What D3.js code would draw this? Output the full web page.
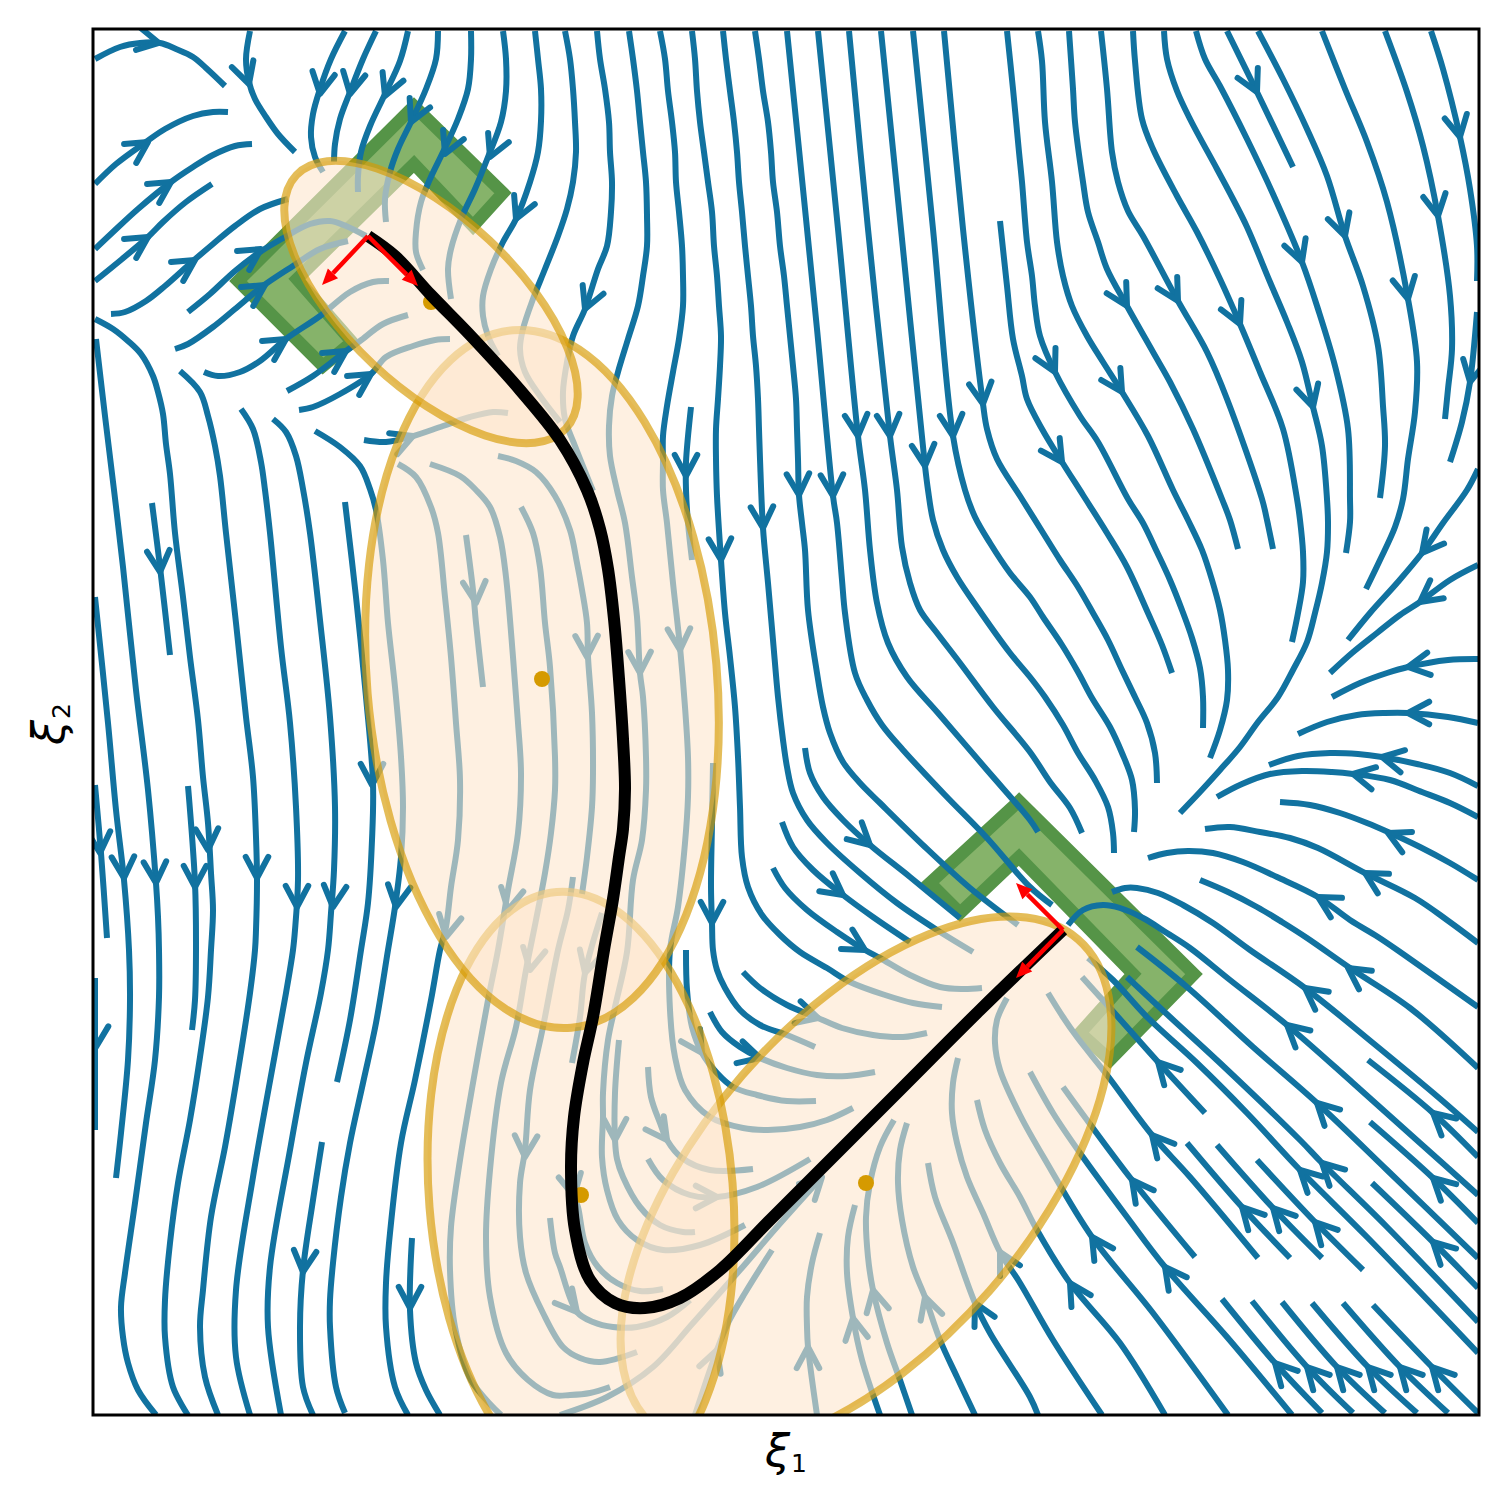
<!DOCTYPE html>
<html>
<head>
<meta charset="utf-8">
<script src="https://cdn.jsdelivr.net/npm/d3@7"></script>
<style>
  body { margin: 0; background: #fff; }
  svg { display: block; }
  text { font-family: "DejaVu Sans"; fill: #000; }
</style>
</head>
<body>
<svg></svg>
<script>
const width = 1508
const height = 1508

// values are in plot units, flat x,y,x,y lists
const streamTopLeft = [
    [2,30,27,18,47,14,67,14,83,20,100,28,113,39,132,57],
    [157,2,153,30,156,53,162,70,173,88,185,105,202,123],
    [252,2,238,30,227,60,220,85,218,108,222,128,230,143],
    [283,2,270,30,257,63,247,90,242,115,241,133],
    [315,2,307,32,292,65,277,97,268,123,265,147,265,163],
    [345,2,343,30,333,60,318,93,305,120,297,143,292,170,293,193],
    [378,2,378,30,375,60,365,90,350,123,337,150,328,173,323,203,323,223,330,241],
    [410,2,413,30,413,62,408,93,395,128,382,160,368,190,358,220,355,240,358,270],
    [442,2,445,30,448,60,448,92,445,123,437,153,423,190,410,213,398,240,390,267,390,287,395,307,405,327],
    [472,2,477,30,480,60,482,93,483,123,480,153,474,180,465,207,452,240,440,270,430,300,427,320,432,343,447,367,467,393],
    [504,2,507,30,512,60,516,93,517,123,519,153,518,183,514,217,505,240,492,280,480,307,474,333,470,363,472,390,482,417,500,462]
]
const streamFan = [
    [2,155,23,135,53,113,72,100,100,87,120,83,135,83],
    [2,220,20,203,45,180,78,153,100,138,120,126,142,117,159,115],
    [2,252,23,235,55,208,70,193,93,173,119,155],
    [18,285,32,283,53,272,72,257,100,232,120,215,142,197,167,180,195,170],
    [95,283,117,265,142,242,167,223,192,208,217,195,237,192,253,197,273,207],
    [82,320,95,315,120,298,142,280,170,257,200,237,227,220,255,212],
    [111,343,125,347,147,343,167,332,193,310,227,287,257,263,280,253,296,252],
    [194,362,220,347,253,322,267,312,290,295,315,286],
    [206,381,220,378,247,365,278,345,293,328,320,317,342,311,357,310],
    [271,411,293,413,317,408,350,397,377,388,400,383,415,384]
]
const streamLeft = [
    [3,310,12,387,21,461,30,538,43,661,55,761,63,854,65,888,66,921,66,968,62,1031,53,1094,42,1174,32,1244,28,1278,30,1308,35,1334,45,1361,63,1386],
    [2,290,20,300,35,312,48,325,60,347,65,363,70,385,73,415,77,445,82,504,90,568,97,628,105,691,110,748,115,794,118,844,120,881,118,921,115,968,107,1028,97,1091,85,1154,77,1214,72,1271,72,1308,80,1358,95,1386],
    [87,342,107,363,115,387,122,417,127,447,133,504,143,594,153,688,160,748,163,808,164,851,163,901,162,921,157,964,143,1054,132,1118,118,1188,110,1261,107,1298,112,1348,125,1386],
    [148,380,160,400,168,433,172,461,177,504,188,618,197,694,203,778,205,851,202,901,200,921,193,964,173,1074,160,1148,143,1261,143,1328,157,1386],
    [180,390,193,403,203,427,210,460,217,504,227,591,237,688,242,778,241,841,238,884,235,921,228,964,213,1034,197,1121,177,1238,175,1298,188,1386],
    [252,473,263,568,273,668,280,754,279,811,275,874,268,921,257,991,244,1053],
    [59,474,67,538,77,626],
    [2,568,15,694,23,781,31,851,36,921,37,971,35,1031,28,1104,23,1149],
    [2,756,8,824,14,909],
    [2,949,2,1101],
    [95,757,102,854,103,921,102,971,99,1001],
    [229,1113,220,1171,210,1241,207,1298,210,1358,220,1386],
    [319,1209,317,1281,323,1334,333,1361,347,1386]
]
const streamMiddle = [
    [222,402,247,418,267,437,277,460,283,481,290,531,295,594,302,658,308,728,310,778,308,828,302,878,295,921,283,994,270,1054,257,1114,248,1168,240,1234,237,1271,237,1298,243,1358,252,1384],
    [305,435,323,448,338,478,345,504,352,568,358,628,363,694,367,751,365,811,358,858,353,898,347,921,338,971,322,1051,308,1114,297,1204,293,1254,293,1298,302,1358,315,1386],
    [337,435,367,447,383,461,397,478,407,508,413,548,420,628,425,694,428,744,425,804,415,861,405,921,395,971,380,1054,367,1131,358,1198,357,1241,362,1298,378,1351,408,1386],
    [373,506,380,561,383,594,390,658],
    [428,478,440,504,447,538,452,594,457,638,462,728,462,761,458,804,452,844,443,891,433,941,423,998,408,1054,397,1141,393,1208,397,1268,413,1324,435,1351,460,1366,477,1366,497,1364,517,1358],
    [405,427,423,432,443,443,462,467,477,501,484,534,489,561,494,594,495,628,499,684,500,744,499,778,494,828,489,865],
    [480,848,475,881,465,921,450,998,437,1061,432,1121,427,1154,427,1208,433,1244,450,1284,470,1318,487,1329,507,1333,544,1323],
    [509,884,492,944,487,988,479,1034],
    [478,1100,481,1167,485,1178,492,1214,505,1238,524,1254,547,1262,570,1260],
    [457,1189,462,1224,467,1238,484,1283,500,1293,520,1298,544,1298,574,1288,597,1271],
    [536,2,540,30,544,62,547,93,550,123,553,153,554,187,554,217,550,247,545,277,535,310,525,343,519,367,516,397,517,427,524,461,532,494,539,548,544,588,547,644,550,668,553,728,553,761,549,811,540,851,534,923,522,978,515,1011,510,1064,510,1088,509,1128,514,1161,525,1191,544,1211,570,1221,607,1216,652,1196],
    [567,2,572,30,575,62,579,93,582,123,583,153,586,183,589,217,590,247,590,277,586,310,580,343,574,377,570,407,570,433,570,461,574,494,580,554,587,618,592,678,595,728,595,768,592,814,585,878,577,921,577,981,582,1028,592,1061,617,1088,650,1099,675,1101,707,1098,734,1091,760,1079],
    [599,2,602,30,604,62,607,93,611,123,615,153,619,183,621,217,624,247,626,277,628,307,627,337,625,370,623,400,623,430,624,467,628,531,632,584,637,628,642,678,645,728,647,778,649,828,655,858,669,886,687,906,707,923,734,939,757,953,792,966,820,974,849,978],
    [598,378,593,433,593,461,595,494,599,531],
    [620,734,619,794,618,858,619,894,620,921,624,941,632,959,647,981,667,996,694,1006,722,1018],
    [630,2,633,30,637,62,641,93,644,123,646,153,649,183,652,217,655,247,658,277,660,307,663,337,665,370,666,400,667,430,670,499,675,554,680,611,685,668,690,711,694,738,700,764,714,791,734,814,767,844,804,874,844,901,880,923],
    [662,2,666,30,670,62,675,93,678,123,680,153,684,183,687,217,691,247,694,277,697,307,700,337,703,370,704,400,705,430,706,466,709,494,712,521,715,581,724,644,730,678,737,704,750,733,767,754,787,774,832,818,877,859,925,896],
    [712,719,717,744,730,768,750,791,777,816,817,848,867,889],
    [689,793,700,818,720,841,750,866,780,888,817,913],
    [680,839,692,859,714,881,744,903,772,921,787,929,817,946,847,958,870,960,889,959],
    [650,943,667,959,694,976,725,989,749,999,780,1006,810,1008,834,1004],
    [617,983,629,1003,647,1018,667,1029,694,1039,724,1046,754,1047,782,1043],
    [593,921,594,961,599,998,609,1024,624,1044,640,1058,664,1066,694,1072,723,1072],
    [526,1011,522,1064,522,1111,524,1130,530,1148,547,1178,567,1196,590,1203,602,1203],
    [555,1038,558,1068,567,1094,574,1111,589,1129,617,1141,660,1140],
    [555,1130,570,1151,597,1166,624,1168,664,1158,717,1130]
]
const streamTopRight = [
    [694,2,709,150,724,300,740,467,744,494,749,551,752,584,762,644,774,671,789,696,810,721,852,766,894,809,937,858,959,876],
    [725,2,745,200,765,407,772,461,777,521,784,574,795,614,814,648,845,684,894,741,937,791,945,803],
    [756,2,775,200,797,407,804,461,809,518,817,554,827,581,844,604,867,634,900,678,937,723,957,753,977,779,989,804],
    [788,2,808,200,832,437,835,461,840,491,850,521,864,548,884,578,917,624,937,648,952,668,970,696,985,724,1002,751,1015,778,1020,804,1021,824],
    [820,2,840,200,860,407,872,461,882,488,897,514,917,544,937,568,950,588,969,616,985,643,999,669,1017,698,1029,724,1039,751,1042,781,1041,803],
    [851,2,870,200,890,375,894,400,904,430,927,467,947,499,967,531,985,558,1000,584,1015,611,1029,641,1042,668,1054,694,1062,724,1064,754],
    [907,192,914,257,920,310,929,347,934,370,949,400,969,433,990,466,1014,504,1034,538,1055,584,1069,616,1079,644],
    [914,2,920,60,926,123,929,153,934,213,939,247,942,277,947,307,962,343,987,387,1005,413,1035,470,1050,494,1064,523,1077,551,1089,581,1099,609,1107,639,1110,668,1110,699],
    [945,2,949,32,952,93,959,153,964,213,970,247,979,277,994,307,1010,333,1029,363,1055,407,1080,461,1095,491,1109,521,1119,551,1127,581,1132,611,1135,641,1134,671,1127,701,1117,729],
    [976,2,980,60,982,93,990,153,995,183,1005,213,1014,240,1034,277,1060,323,1077,353,1100,400,1129,470,1137,491,1145,520],
    [1008,2,1014,60,1019,123,1025,153,1035,182,1050,207,1085,272,1114,323,1134,370,1169,470,1174,491,1180,520],
    [1040,2,1042,32,1049,90,1060,120,1084,167,1104,203,1127,250,1147,295,1167,343,1190,400,1204,470,1207,491,1210,523,1210,553,1205,584,1199,613],
    [1071,2,1074,30,1084,62,1097,90,1124,140,1140,170,1154,198,1177,253,1194,293,1209,333,1220,378,1229,417,1234,470,1235,493,1234,523,1229,554,1222,584,1214,613,1200,641,1185,668,1165,693,1147,718,1127,741,1107,763,1087,784],
    [1103,2,1112,30,1127,57,1154,110,1180,165,1209,233,1225,280,1242,337,1255,400,1257,470,1257,493,1253,524],
    [1165,2,1190,50,1214,100,1234,147,1252,207,1270,257,1285,317,1290,377,1292,417,1287,469],
    [1229,2,1252,60,1274,113,1294,173,1315,270,1324,333,1322,383,1315,430,1310,470,1302,498,1287,531,1273,560],
    [1292,2,1314,63,1330,117,1345,187,1357,267,1359,320,1355,360,1352,390],
    [1338,2,1350,40,1367,108,1377,160,1384,217,1384,252],
    [1384,283,1377,353,1369,393,1357,433],
    [1134,2,1164,63,1200,138]
]
const streamRight = [
    [1385,440,1374,461,1350,494,1329,524,1304,554,1277,584,1255,611],
    [1385,536,1357,551,1327,573,1307,586,1284,604,1259,624,1237,644],
    [1385,630,1355,631,1315,638,1294,644,1267,654,1239,668],
    [1385,694,1355,688,1315,684,1292,684,1264,686,1234,693,1205,705],
    [1385,757,1357,744,1324,735,1289,728,1265,725,1237,724,1205,727,1176,736],
    [1385,788,1357,774,1329,763,1297,751,1260,745,1239,743,1209,742,1177,745,1149,755,1124,768],
    [1385,851,1357,834,1327,818,1295,803,1274,794,1247,784,1217,776,1187,773],
    [1385,914,1354,891,1322,869,1272,844,1225,819,1197,809,1167,803,1137,798,1112,800],
    [1385,978,1310,925,1285,908,1257,891,1225,868,1184,848,1150,833,1120,824,1095,822,1074,824,1055,829],
    [1385,1039,1317,979,1257,939,1214,909,1189,893,1164,878,1135,863,1107,851],
    [1385,1103,1345,1068,1280,1014,1212,959,1157,921,1120,894,1090,876,1065,864,1044,859,1032,859,1019,863],
    [1385,1166,1327,1114,1260,1054,1194,996,1137,951,1097,919,1074,904,1050,889,1027,879,1010,876,990,881,975,896]
]
const streamLowerRight = [
    [1385,1229,1294,1141,1224,1074,1160,1018,1094,958,1044,918],
    [1385,1293,1294,1198,1229,1134,1207,1111,1127,1034,1077,988,1034,948],
    [1385,1324,1274,1208,1207,1141,1154,1084,1104,1034,1054,988,1020,951,995,929],
    [1112,1084,1065,1033,1017,979,989,948],
    [1165,1229,1097,1148,1059,1106,1014,1046,984,1008,970,988,955,964],
    [1102,1228,1039,1151,994,1091,970,1058],
    [1199,1386,1134,1308,1072,1238,1034,1188,987,1124,960,1084,937,1043],
    [1135,1386,1060,1284,999,1208,954,1134,927,1086,907,1041,902,1014,904,991,914,969],
    [1072,1386,1027,1314,977,1254,944,1201,927,1168,907,1134,892,1101,884,1071],
    [1009,1386,960,1311,927,1254,907,1223,890,1184,874,1148,864,1114,859,1084,860,1054,865,1029],
    [945,1386,937,1368,897,1304,882,1274,859,1211,842,1168,835,1134],
    [882,1386,864,1348,847,1311,832,1268,820,1238,809,1191,805,1154,807,1121,814,1094],
    [819,1386,807,1351,794,1314,780,1261,775,1228,773,1188,777,1154,787,1118,801,1091],
    [787,1386,769,1331,760,1289,754,1244,755,1208,762,1176],
    [724,1386,715,1318,714,1298,714,1268,719,1234,727,1204],
    [602,1386,624,1321,635,1294,652,1264,679,1221],
    [467,1386,514,1368,560,1338,600,1294,647,1241,684,1198,729,1148],
    [1197,1229,1149,1178,1094,1114],
    [1229,1229,1180,1179,1124,1116],
    [1270,1241,1222,1193,1164,1131],
    [1385,1128,1340,1084,1275,1031],
    [1385,1194,1340,1149,1277,1093],
    [1385,1259,1340,1213,1279,1154],
    [1229,1384,1182,1334,1129,1270],
    [1260,1384,1214,1338,1159,1272],
    [1292,1384,1244,1338,1189,1273],
    [1324,1384,1275,1338,1219,1274],
    [1355,1384,1307,1338,1250,1274],
    [1385,1384,1339,1338,1280,1276]
]

// arrow tip x, y and flow direction dx, dy
const arrowTips = [
    [66,14,1,.2],[156,55,.3,.95],[227,65,-.17,.98],[257,65,-.2,.98],[292,67,-.38,.93],[318,93,-.42,.91],
    [352,125,-.4,.92],[397,128,-.4,.92],[423,190,-.4,.92],[492,280,-.38,.92],
    [55,113,.84,-.54],[78,153,.84,-.54],[55,208,.84,-.54],[102,231,.84,-.54],[168,220,.84,-.54],[172,256,.84,-.54],
    [193,310,.84,-.54],[253,322,.84,-.54],[278,345,.84,-.54],[320,407,.9,-.35],
    [494,628,.02,1],[547,644,.02,1],[587,621,.05,1],[383,574,.08,1],[415,881,-.2,.98],[353,908,-.2,.98],[303,878,-.15,.99],
    [279,756,0,1],[240,878,-.1,1],[204,878,0,1],[164,849,0,1],[115,821,.05,1],[102,858,0,1],[63,854,.05,1],[31,849,.05,1],
    [7,824,.05,1],[67,543,.08,1],[3,1018,-.05,1],
    [593,447,0,1],[628,531,.05,1],[670,499,.05,1],[706,466,.05,1],[740,467,.05,1],[765,407,.09,1],[797,407,.09,1],[832,437,.09,1],[860,407,.09,1],[890,375,.13,1],
    [619,894,0,1],[777,816,.74,.67],[750,866,.8,.6],[772,921,.85,.5],[725,989,.96,.27],[667,1029,.96,.27],
    [609,1024,.54,.84],[522,1111,0,1],[574,1111,.58,.81],[624,1168,1,0],[432,1128,-.05,1],[437,941,-.2,.98],[492,944,-.27,.96],[481,1167,.2,.98],[484,1283,.64,.77],
    [210,1243,-.1,1],[317,1279,0,1],
    [969,433,.55,.83],[962,343,.45,.89],[1034,277,.5,.87],[1029,363,.53,.85],[1085,272,.5,.87],[1147,295,.42,.91],[1220,378,.27,.96],
    [1209,233,.33,.94],[1252,207,.3,.95],[1315,270,.2,.98],[1345,187,.17,.98],[1367,108,.2,.98],[1377,353,-.2,.98],[1164,63,.44,.9],
    [1329,524,-.63,.78],[1327,573,-.8,.6],[1315,638,-.97,.15],[1315,684,-1,0],[1289,728,-.97,-.2],[1260,745,-.97,-.2],[1295,804,-.9,-.43],[1272,844,-.87,-.5],[1225,868,-.87,-.5],
    [1255,939,-.82,-.57],[1212,959,-.8,-.6],[1194,996,-.75,-.66],[1224,1074,-.72,-.69],[1340,1084,-.75,-.66],[1340,1149,-.73,-.68],[1340,1213,-.72,-.69],
    [1229,1134,-.72,-.69],[1207,1141,-.72,-.69],[1065,1033,-.68,-.73],[1059,1106,-.65,-.76],[1039,1151,-.6,-.8],[999,1208,-.55,-.83],[1072,1238,-.6,-.8],[977,1254,-.52,-.85],
    [1149,1178,-.68,-.73],[1180,1179,-.68,-.73],[1222,1193,-.68,-.73],
    [1182,1334,-.68,-.73],[1214,1338,-.68,-.73],[1244,1338,-.68,-.73],[1275,1338,-.68,-.73],[1307,1338,-.68,-.73],[1339,1338,-.68,-.73],
    [882,1274,-.45,-.89],[907,1223,-.47,-.88],[832,1268,-.3,-.95],[780,1261,-.22,-.97],[760,1289,-.17,-.98],[715,1318,0,-1],[624,1321,.33,-.94],[729,1148,.71,-.7]
]

const trajectory = [275,207,302,227,338,266,377,306,427,361,467,411,494,461,507,500,515,540,521,590,526,650,530,710,532,760,530,800,526,828,520,870,511,921,500,988,490,1034,481,1088,478,1138,482,1201,497,1251,522,1274,552,1279,587,1269,627,1241,677,1191,737,1131,807,1061,887,981,970,901]
const boxTop = [321,77,410,164,380,197,321,135,204,250,259,313,230,337,145,252]
const boxBottom = [926,772,1101,945,1017,1031,987,1004,1040,945,926,828,867,884,837,854]
// from x, from y, to x, to y
const redArrows = [[275,207,229,256],[275,207,325,257],[970,901,923,854],[970,901,923,949]]
const ellipseX = [338,449,488,773]
const ellipseY = [273,650,1166,1154]
const ellipseRx = [185,175,152,164]
const ellipseRy = [85,350,304,323]
const ellipseTilt = [43.3,-4.8,-4.6,41]

const pairs = a => d3.range(0, a.length, 2).map(i => [a[i], a[i + 1]])

const x = d3.scaleLinear().domain([0, 1386]).range([93, 1479])
const y = d3.scaleLinear().domain([0, 1386]).range([29, 1415])
const line = d3.line().x(d => x(d[0])).y(d => y(d[1]))
const smooth = line.curve(d3.curveCatmullRom)

const svg = d3.select('svg')
    .attr('width', width)
    .attr('height', height)

svg.append('clipPath')
    .attr('id', 'plot')
    .append('rect')
    .attr('x', x(0))
    .attr('y', y(0))
    .attr('width', x(1386) - x(0))
    .attr('height', y(1386) - y(0))

const plot = svg.append('g').attr('clip-path', 'url(#plot)')

// green boxes go under the flow
plot.append('g')
    .selectAll('path')
    .data([boxTop, boxBottom])
    .enter()
    .append('path')
    .attr('d', d => d3.line().x(p => x(p[0])).y(p => y(p[1]))(pairs(d)) + 'Z')
    .attr('fill', '#86b36a')
    .attr('stroke', '#559447')
    .attr('stroke-width', 12.5)
    .attr('stroke-linejoin', 'miter')

const allStreams = [].concat(streamTopLeft, streamFan, streamLeft, streamMiddle, streamTopRight, streamRight, streamLowerRight)

plot.append('g')
    .selectAll('path')
    .data(allStreams)
    .enter()
    .append('path')
    .attr('d', d => smooth(pairs(d)))
    .attr('fill', 'none')
    .attr('stroke', '#1172a0')
    .attr('stroke-width', 6)

const BARB = 24
const SPREAD = 28 * Math.PI / 180

plot.append('g')
    .selectAll('path')
    .data(arrowTips)
    .enter()
    .append('path')
    .attr('d', d => {
        const a = Math.atan2(d[3], d[2])
        const tx = x(d[0])
        const ty = y(d[1])
        const b1 = [tx - BARB * Math.cos(a - SPREAD), ty - BARB * Math.sin(a - SPREAD)]
        const b2 = [tx - BARB * Math.cos(a + SPREAD), ty - BARB * Math.sin(a + SPREAD)]
        return `M${b1}L${tx},${ty}L${b2}`
    })
    .attr('fill', 'none')
    .attr('stroke', '#1172a0')
    .attr('stroke-width', 6)
    .attr('stroke-linecap', 'round')
    .attr('stroke-linejoin', 'round')

// later ellipses in the list are underneath
plot.append('g')
    .selectAll('ellipse')
    .data(d3.range(ellipseX.length).reverse())
    .enter()
    .append('ellipse')
    .attr('cx', i => x(ellipseX[i]))
    .attr('cy', i => y(ellipseY[i]))
    .attr('rx', i => x(ellipseRx[i]) - x(0))
    .attr('ry', i => y(ellipseRy[i]) - y(0))
    .attr('transform', i => `rotate(${ellipseTilt[i]} ${x(ellipseX[i])} ${y(ellipseY[i])})`)
    .attr('fill', 'rgba(253,230,205,0.6)')
    .attr('stroke', 'rgba(213,154,0,0.65)')
    .attr('stroke-width', 8)

plot.append('g')
    .selectAll('circle')
    .data(d3.range(ellipseX.length))
    .enter()
    .append('circle')
    .attr('cx', i => x(ellipseX[i]))
    .attr('cy', i => y(ellipseY[i]))
    .attr('r', 8)
    .attr('fill', '#d59a00')

plot.append('path')
    .attr('d', smooth(pairs(trajectory)))
    .attr('fill', 'none')
    .attr('stroke', '#000')
    .attr('stroke-width', 12)

const HEAD = 16
const HALF = 7

redArrows.forEach(d => {
    const x0 = x(d[0]), y0 = y(d[1]), x1 = x(d[2]), y1 = y(d[3])
    const a = Math.atan2(y1 - y0, x1 - x0)
    const bx = x1 - HEAD * Math.cos(a)
    const by = y1 - HEAD * Math.sin(a)
    plot.append('line')
        .attr('x1', x0).attr('y1', y0)
        .attr('x2', bx).attr('y2', by)
        .attr('stroke', '#f00')
        .attr('stroke-width', 4.5)
    plot.append('path')
        .attr('d', `M${x1},${y1}L${bx - HALF * Math.sin(a)},${by + HALF * Math.cos(a)}L${bx + HALF * Math.sin(a)},${by - HALF * Math.cos(a)}Z`)
        .attr('fill', '#f00')
})

svg.append('rect')
    .attr('x', x(0))
    .attr('y', y(0))
    .attr('width', x(1386) - x(0))
    .attr('height', y(1386) - y(0))
    .attr('fill', 'none')
    .attr('stroke', '#000')
    .attr('stroke-width', 3)

const addLabel = (g, sub) => {
    g.attr('text-anchor', 'middle')
    g.append('tspan').attr('font-size', 45).attr('font-style', 'italic').text('ξ')
    g.append('tspan').attr('font-size', 25).attr('dx', 1).attr('dy', 6).text(sub)
}

addLabel(svg.append('text').attr('x', 786).attr('y', 1466), '1')
addLabel(svg.append('text').attr('transform', 'translate(64,724) rotate(-90)'), '2')
</script>
</body>
</html>
